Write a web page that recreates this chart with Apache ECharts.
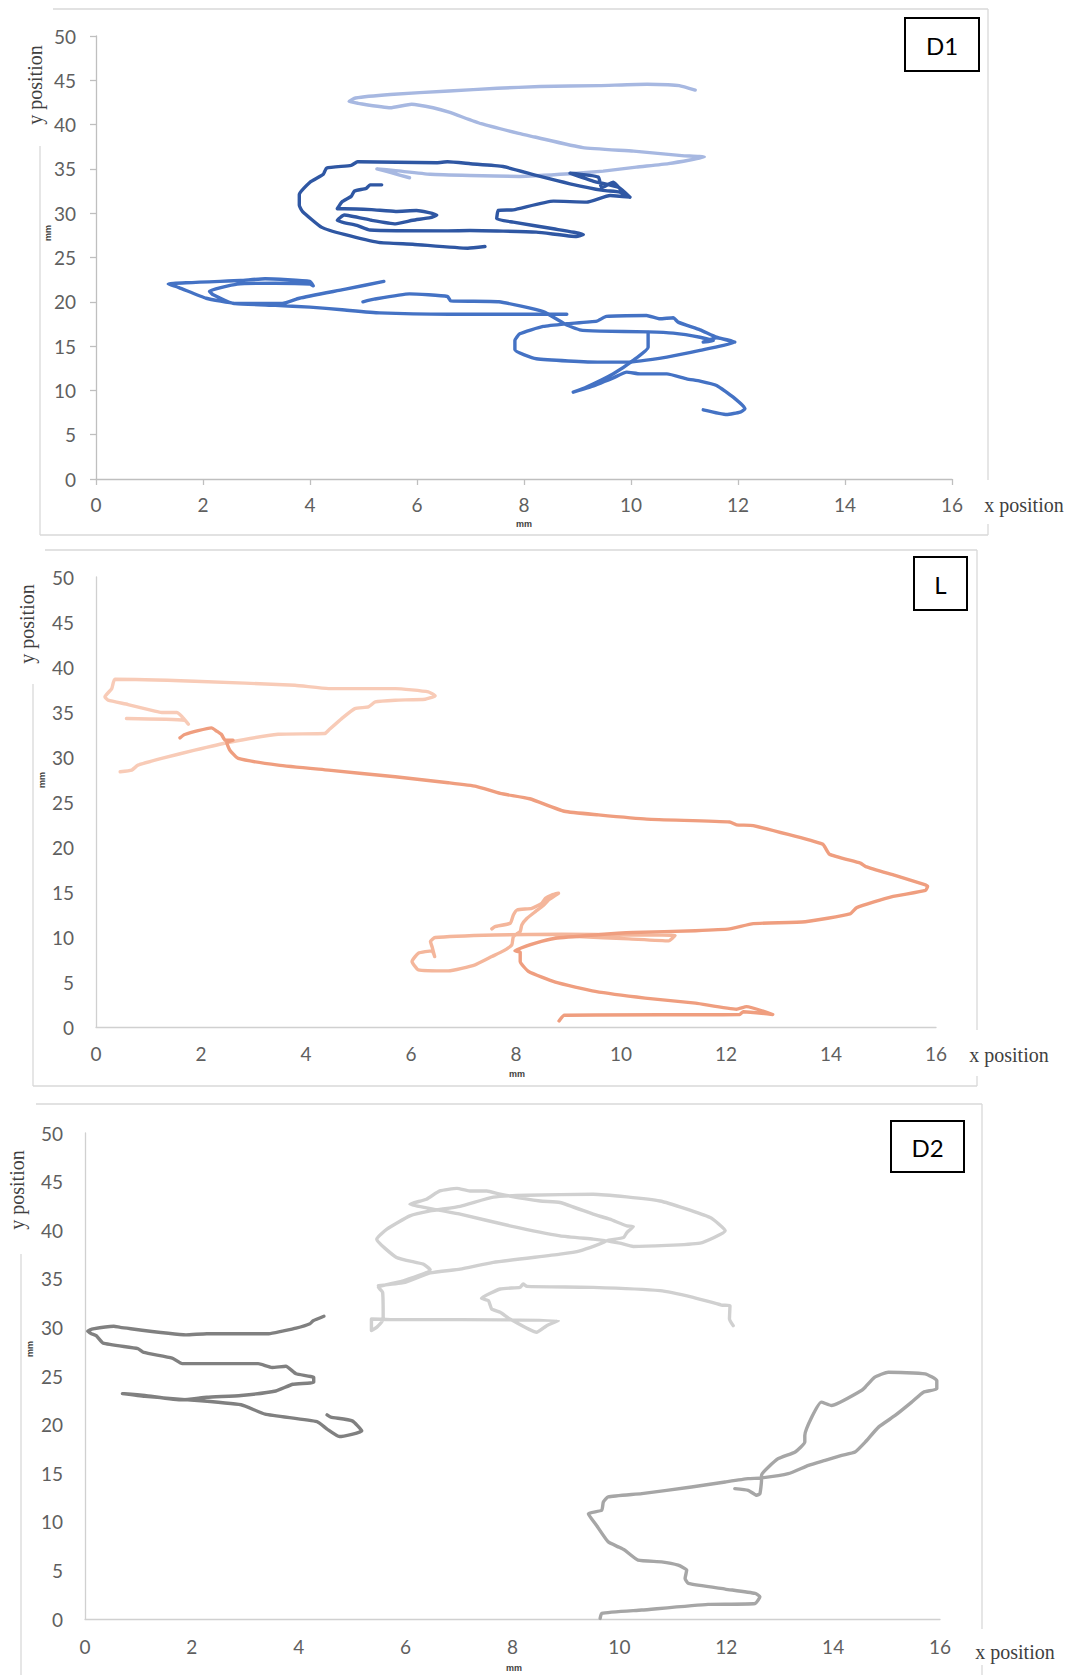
<!DOCTYPE html>
<html>
<head>
<meta charset="utf-8">
<script src="https://cdn.jsdelivr.net/npm/echarts@6/dist/echarts.min.js"></script>
<style>
html,body{margin:0;padding:0;background:#fff;}
#chart{width:1071px;height:1675px;}
</style>
</head>
<body>
<div id="chart"></div>
<script>
// ---------- tick labels ----------
const xTicks = [0, 2, 4, 6, 8, 10, 12, 14, 16];
const yTicks = [0, 5, 10, 15, 20, 25, 30, 35, 40, 45, 50];
const panelLabels = ['D1', 'L', 'D2'];

// ---------- D1 (blue) ----------
const d1Light = [[11.20,43.9],[10.9,44.4],[10.69,44.5],[10.3,44.55],[9.4,44.4],[8.3,44.3],[7.5,44.1],[6.6,43.8],[5.5,43.4],[4.85,43.0],[4.73,42.6],[4.9,42.4],[5.5,41.9],[5.9,42.3],[6.3,41.9],[6.6,41.4],[7.2,40.1],[7.9,39.0],[8.2,38.6],[9.1,37.4],[10.05,37.0],[10.95,36.5],[11.37,36.35],[11.1,36.0],[10.7,35.6],[10.1,35.2],[9.48,34.75],[8.86,34.45],[7.92,34.15],[6.99,34.26],[6.25,34.4],[5.6,34.8],[5.25,35.0],[5.5,34.6],[5.86,34.0]];
const d1Dark = [[7.27,26.24],[6.95,26.05],[5.92,26.5],[5.28,26.7],[4.64,27.6],[4.22,28.4],[3.86,30.2],[3.8,30.9],[3.8,32.1],[4.0,33.5],[4.25,34.4],[4.31,35.1],[4.77,35.4],[4.89,35.8],[6.37,35.7],[6.57,35.8],[7.0,35.58],[7.61,35.27],[8.23,34.26],[8.86,33.32],[9.48,32.57],[9.79,32.38],[9.98,31.81],[9.82,32.57],[9.67,33.5],[9.45,32.87],[9.39,34.07],[8.86,34.52],[9.3,33.6],[9.76,32.94],[9.98,31.81],[9.61,32.0],[9.17,31.25],[8.55,31.36],[7.8,30.38],[7.52,30.31],[7.49,29.37],[7.8,28.99],[8.55,28.24],[9.11,27.6],[8.98,27.37],[8.23,27.86],[6.99,28.05],[6.57,28.0],[5.12,28.1],[4.89,28.6],[4.51,29.2],[4.64,29.8],[5.15,29.2],[5.6,28.8],[5.92,29.2],[6.25,29.5],[6.37,29.8],[5.99,30.3],[5.6,30.2],[5.15,30.4],[4.64,30.5],[4.51,30.5],[4.6,31.3],[4.77,31.9],[4.83,32.5],[5.05,32.8],[5.12,33.2],[5.34,33.2]];
const d1MedA = [[8.8,18.6],[8.3,18.6],[6.6,18.6],[5.3,18.75],[4.6,19.1],[4.0,19.4],[3.35,19.6],[2.6,19.8],[2.06,20.4],[1.55,21.6],[1.35,22.0],[2.7,22.4],[3.16,22.6],[4.0,22.3],[4.06,21.8],[4.0,22.0],[3.35,22.1],[2.64,22.0],[2.12,21.2],[2.19,20.8],[2.58,19.8],[3.48,19.8],[3.8,20.4],[4.64,21.4],[5.38,22.3]];
const d1MedB = [[4.99,20.0],[5.2,20.3],[5.86,20.9],[6.57,20.6],[6.63,20.1],[7.53,20.0],[8.36,18.9],[8.79,17.4],[9.04,16.84],[9.42,16.69],[10.32,16.6],[10.79,16.46],[11.29,16.0],[11.54,15.6],[11.35,15.45],[11.6,15.95],[11.94,15.45],[11.29,14.51],[10.67,13.76],[9.92,13.19],[9.42,13.19],[8.23,13.57],[7.83,14.58],[7.83,15.64],[7.92,16.39],[8.36,17.22],[8.79,17.52],[9.36,17.82],[9.54,18.35],[10.29,18.46],[10.54,18.08],[10.79,18.2],[10.88,17.71],[11.29,16.84],[11.6,16.01],[11.94,15.45]];
const d1MedC = [[10.32,16.55],[10.32,14.88],[10.04,13.38],[9.67,11.87],[9.17,10.37],[8.92,9.8],[9.2,10.3],[9.67,11.42],[9.92,12.06],[10.17,11.87],[10.67,11.87],[11.04,11.31],[11.29,11.05],[11.6,10.56],[11.91,9.24],[12.13,7.92],[12.04,7.55],[11.79,7.28],[11.35,7.81]];

// ---------- L (orange) ----------
const lLight = [[0.58,34.27],[1.69,34.09],[1.76,33.64],[1.54,34.94],[1.25,34.94],[1.12,35.09],[0.61,35.83],[0.23,36.31],[0.17,36.68],[0.30,37.6],[0.36,38.64],[1.88,38.42],[3.79,37.97],[4.43,37.6],[5.70,37.6],[6.33,37.23],[6.46,36.79],[6.27,36.42],[5.70,36.31],[5.32,36.12],[5.19,35.57],[4.93,35.38],[4.68,34.27],[4.43,32.98],[4.36,32.61],[3.47,32.53],[2.52,31.61],[1.88,30.76],[1.25,29.84],[0.80,29.1],[0.68,28.54],[0.46,28.36]];
const lMain = [[1.60,32.13],[1.69,32.5],[2.20,33.24],[2.30,32.87],[2.39,32.5],[2.46,31.87],[2.61,31.87],[2.49,31.61],[2.55,30.76],[2.71,29.84],[3.47,29.1],[4.43,28.54],[5.70,27.8],[6.71,27.14],[7.24,26.74],[7.7,25.95],[8.26,25.36],[8.92,23.97],[9.57,23.57],[10.49,23.1],[12.07,22.78],[12.2,22.46],[12.52,22.38],[13.84,20.32],[13.97,19.2],[14.56,18.22],[14.66,17.83],[15.22,16.84],[15.77,15.85],[15.84,15.65],[15.8,15.17],[15.15,14.46],[14.49,13.27],[14.36,12.56],[13.51,11.69],[12.52,11.49],[12.07,10.9],[11.42,10.7],[10.23,10.5],[9.51,10.23],[8.75,9.86],[8.37,9.31],[7.98,8.46],[8.08,8.31],[8.08,7.28],[8.24,6.17],[8.75,4.98],[9.51,3.95],[10.46,3.21],[11.42,2.65],[12.2,1.98],[12.39,2.26],[12.89,1.39],[12.33,1.70],[12.26,1.39],[8.92,1.31],[8.82,0.67]];
const lMed = [[7.54,10.9],[7.6,11.16],[7.89,11.53],[7.95,12.45],[8.02,13.0],[8.3,13.19],[8.49,13.75],[8.56,14.3],[8.68,14.67],[8.81,14.86],[8.62,14.12],[8.52,13.49],[8.37,12.82],[8.21,12.08],[8.11,11.34],[8.08,10.6],[7.95,10.05],[7.92,9.12],[7.76,8.46],[7.54,7.83],[7.22,6.91],[6.71,6.24],[6.14,6.35],[6.02,7.28],[6.14,8.2],[6.4,8.46],[6.45,7.83],[6.4,8.94],[6.37,9.49],[6.46,9.94],[7.6,10.23],[8.87,10.31],[10.15,10.23],[11.03,10.16],[10.91,9.57],[10.15,9.79],[9.19,10.05],[8.75,10.23]];

// ---------- D2 (grey) ----------
const d2Dark = [[4.47,31.15],[4.27,30.69],[4.21,30.38],[3.95,29.92],[3.69,29.62],[3.44,29.35],[2.28,29.35],[1.89,29.23],[0.66,30.0],[0.54,30.12],[0.15,29.85],[0.05,29.62],[0.12,29.35],[0.21,29.15],[0.34,28.38],[0.99,27.81],[1.1,27.42],[1.63,26.85],[1.82,26.27],[3.24,26.27],[3.5,25.88],[3.76,26.0],[3.95,25.23],[4.28,24.85],[4.28,24.35],[3.89,24.15],[3.57,23.46],[2.92,23.0],[2.28,22.81],[1.82,22.54],[1.12,23.0],[0.74,23.19],[0.70,23.19],[1.12,22.9],[1.82,22.6],[2.92,22.04],[3.37,21.08],[4.34,20.31],[4.53,19.54],[4.76,18.77],[5.18,19.35],[5.0,20.38],[4.6,20.77],[4.53,21.0]];
const d2Light = [[12.13,30.18],[12.06,30.87],[12.07,32.24],[11.91,32.3],[11.38,33.09],[10.76,33.78],[9.51,34.12],[8.27,34.22],[8.2,34.46],[8.14,34.12],[7.77,33.95],[7.42,32.99],[7.55,32.75],[7.61,31.9],[7.77,31.55],[7.95,30.87],[8.45,29.5],[8.64,30.18],[8.86,30.7],[7.02,30.8],[5.77,30.8],[5.36,30.87],[5.36,29.67],[5.46,30.01],[5.58,30.87],[5.57,33.6],[5.49,34.12],[5.96,34.8],[6.46,35.93],[6.33,36.51],[5.83,37.2],[5.46,39.08],[5.65,40.11],[6.08,41.48],[6.46,41.99],[7.02,42.45],[7.64,43.4],[8.27,43.6],[9.51,43.7],[10.76,43.0],[11.7,41.3],[11.98,39.94],[11.51,38.67],[10.26,38.33],[10.01,38.67],[9.76,38.91],[10.08,39.25],[10.14,39.76],[10.26,40.38],[10.14,40.45],[9.82,41.13],[9.51,41.65],[8.89,42.85],[8.52,43.0],[7.77,43.7],[7.52,44.04],[7.2,44.04],[6.96,44.3],[6.64,44.04],[6.39,43.19],[6.08,42.67],[6.39,42.3],[7.02,41.65],[7.95,40.45],[8.89,39.42],[9.51,39.08],[9.76,38.91],[9.26,37.88],[8.89,37.54],[7.64,36.69],[7.02,36.0],[6.46,35.6],[5.96,34.6],[5.49,34.3]];
const d2Med = [[9.64,0.06],[9.67,0.58],[10.42,0.92],[11.66,1.5],[12.54,1.6],[12.63,2.29],[12.54,2.63],[11.98,3.08],[11.29,3.66],[11.23,4.17],[11.26,5.03],[11.1,5.54],[10.79,5.88],[10.35,6.05],[10.1,7.08],[9.98,7.42],[9.79,7.94],[9.57,9.65],[9.42,10.84],[9.67,11.19],[9.7,12.04],[9.79,12.56],[10.42,12.9],[11.35,13.58],[11.98,14.1],[12.41,14.44],[12.66,14.51],[13.16,14.95],[13.54,15.81],[13.85,16.32],[14.16,16.83],[14.41,17.18],[14.6,18.2],[14.85,19.74],[15.16,20.94],[15.47,22.31],[15.69,23.34],[15.94,23.68],[15.94,24.53],[15.72,25.22],[15.03,25.39],[14.78,24.88],[14.6,23.85],[14.53,23.51],[13.97,21.97],[13.78,22.31],[13.47,18.89],[13.47,18.2],[13.29,17.18],[12.97,16.49],[12.66,14.78],[12.66,14.27],[12.63,12.9],[12.57,12.73],[12.41,13.24],[12.16,13.41]];

// ---------- layout (styles/positions) ----------
const grids = [
  {left: 96, top: 36, width: 856, height: 443},
  {left: 96, top: 577, width: 840, height: 450},
  {left: 85, top: 1133, width: 855, height: 486}
];
const showTicks = [true, false, false];
const yLabelMargin = [20, 22, 22];
const xLabelMargin = [16, 17, 18];
const axisColor = ['#BFBFBF', '#D0D0D0', '#D0D0D0'];

const xAxes = grids.map((g, i) => ({
  gridIndex: i, type: 'value', min: xTicks[0], max: xTicks[xTicks.length - 1], interval: xTicks[1] - xTicks[0],
  axisLine: {show: true, onZero: false, lineStyle: {color: axisColor[i], width: 1.3}},
  axisTick: {show: showTicks[i], inside: false, length: 6, lineStyle: {color: axisColor[i], width: 1.3}},
  axisLabel: {color: '#5F5F5F', fontFamily: 'Lato', fontSize: 19, margin: xLabelMargin[i]},
  splitLine: {show: false}
}));
const yAxes = grids.map((g, i) => ({
  gridIndex: i, type: 'value', min: yTicks[0], max: yTicks[yTicks.length - 1], interval: yTicks[1] - yTicks[0],
  axisLine: {show: true, onZero: false, lineStyle: {color: axisColor[i], width: 1.3}},
  axisTick: {show: showTicks[i], inside: false, length: 6, lineStyle: {color: axisColor[i], width: 1.3}},
  axisLabel: {color: '#5F5F5F', fontFamily: 'Lato', fontSize: 19, margin: yLabelMargin[i]},
  splitLine: {show: false}
}));

function lineSeries(data, gi, color, z) {
  return {
    type: 'line', xAxisIndex: gi, yAxisIndex: gi, data: data,
    showSymbol: false, symbol: 'none', smooth: 0.15, z: z || 2,
    lineStyle: {color: color, width: 3.4, cap: 'round', join: 'round'},
    emphasis: {disabled: true}, animation: false
  };
}

const series = [
  lineSeries(d1Light, 0, '#A7B8E1', 2),
  lineSeries(d1Dark, 0, '#2F57A3', 3),
  lineSeries(d1MedA, 0, '#4472C4', 3),
  lineSeries(d1MedB, 0, '#4472C4', 3),
  lineSeries(d1MedC, 0, '#4472C4', 3),
  lineSeries(lLight, 1, '#F8CBB7', 2),
  lineSeries(lMed, 1, '#F4B69B', 3),
  lineSeries(lMain, 1, '#EF9E7F', 4),
  lineSeries(d2Light, 2, '#D0D0D0', 2),
  lineSeries(d2Dark, 2, '#808080', 3),
  lineSeries(d2Med, 2, '#A6A6A6', 3)
];

// frames and annotations
const frameColor = '#D9D9D9';
function seg(x1, y1, x2, y2) {
  return {type: 'line', silent: true, shape: {x1, y1, x2, y2}, style: {stroke: frameColor, lineWidth: 1.3}};
}
function txt(x, y, text, opts) {
  return Object.assign({type: 'text', x, y, silent: true, style: Object.assign({text, align: 'center', verticalAlign: 'middle'}, opts.style)}, opts.el || {});
}
function box(x, y, w, h, label) {
  return [
    {type: 'rect', silent: true, shape: {x, y, width: w, height: h}, style: {fill: '#fff', stroke: '#000', lineWidth: 2}, z: 10},
    {type: 'text', silent: true, x: x + w / 2, y: y + h / 2 + 1, z: 11, style: {text: label, fontFamily: 'Lato', fontSize: 24, fill: '#000', align: 'center', verticalAlign: 'middle'}}
  ];
}
const serifTitle = {fontFamily: 'Liberation Serif', fontSize: 20, fill: '#3F3F3F'};
const mmStyle = {fontFamily: 'Liberation Sans', fontSize: 9, fontWeight: 'bold', fill: '#404040'};

const graphics = [
  // panel 1 frame
  seg(53, 9, 988, 9), seg(988, 9, 988, 480), seg(988, 524, 988, 535), seg(40, 535, 988, 535), seg(40, 146, 40, 535),
  // panel 2 frame
  seg(45, 550, 977, 550), seg(977, 550, 977, 1030), seg(977, 1076, 977, 1086), seg(33, 1086, 977, 1086), seg(33, 684, 33, 1086),
  // panel 3 frame
  seg(36, 1104, 982, 1104), seg(982, 1104, 982, 1629), seg(982, 1665, 982, 1675), seg(21, 1254, 21, 1675),
  // axis titles
  txt(35, 85, 'y position', {style: serifTitle, el: {rotation: Math.PI / 2}}),
  txt(27, 624, 'y position', {style: serifTitle, el: {rotation: Math.PI / 2}}),
  txt(17, 1190, 'y position', {style: serifTitle, el: {rotation: Math.PI / 2}}),
  txt(1024, 505, 'x position', {style: serifTitle}),
  txt(1009, 1055, 'x position', {style: serifTitle}),
  txt(1015, 1652, 'x position', {style: serifTitle}),
  // unit labels
  txt(524, 524, 'mm', {style: mmStyle}),
  txt(48, 233, 'mm', {style: mmStyle, el: {rotation: Math.PI / 2}}),
  txt(517, 1074, 'mm', {style: mmStyle}),
  txt(42, 780, 'mm', {style: mmStyle, el: {rotation: Math.PI / 2}}),
  txt(514, 1668, 'mm', {style: mmStyle}),
  txt(30, 1349, 'mm', {style: mmStyle, el: {rotation: Math.PI / 2}})
].concat(box(905, 18, 74, 53, panelLabels[0]), box(914, 557, 53, 53, panelLabels[1]), box(891, 1121, 73, 51, panelLabels[2]));

const chart = echarts.init(document.getElementById('chart'), null, {renderer: 'svg', width: 1071, height: 1675});
chart.setOption({
  animation: false,
  backgroundColor: '#fff',
  grid: grids,
  xAxis: xAxes,
  yAxis: yAxes,
  series: series,
  graphic: graphics
});
</script>
</body>
</html>
